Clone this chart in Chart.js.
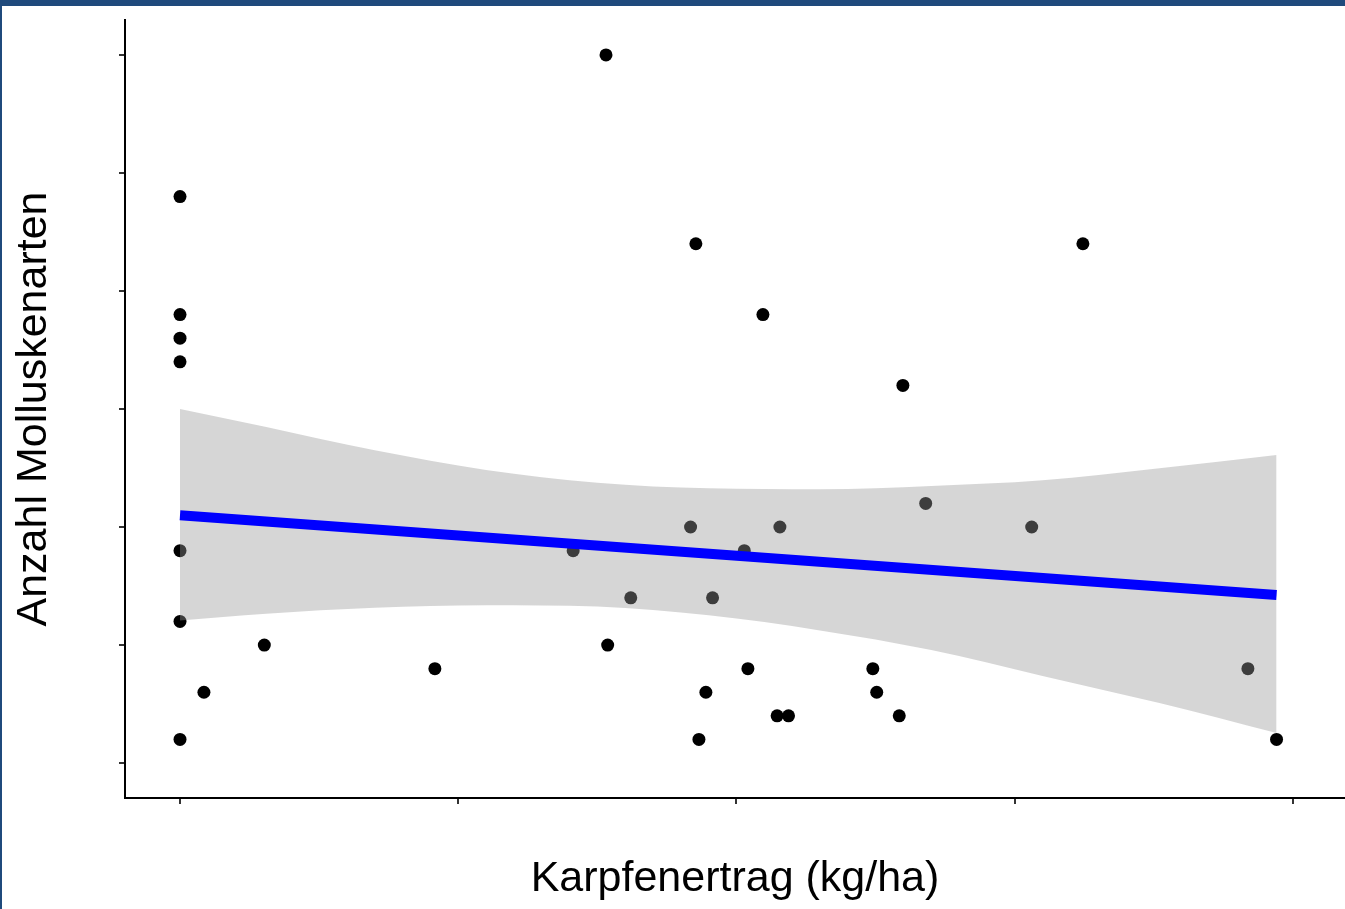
<!DOCTYPE html>
<html>
<head>
<meta charset="utf-8">
<script src="https://cdn.jsdelivr.net/npm/chart.js@4.4.1/dist/chart.umd.min.js"></script>
<style>
  html, body { margin: 0; padding: 0; background: #fff; }
  #wrap { position: relative; width: 1345px; height: 909px; overflow: hidden; }
  #wrap canvas { position: absolute; left: 0; top: 0; }
  .frame-top { position: absolute; left: 0; top: 0; width: 1345px; height: 6px; background: #1f4a7c; }
  .frame-left { position: absolute; left: 0; top: 0; width: 2px; height: 909px; background: #1f4a7c; }
</style>
</head>
<body>
<div id="wrap">
  <canvas id="molluskChart" width="1345" height="909"></canvas>
  <div class="frame-top"></div>
  <div class="frame-left"></div>
</div>
<script>
// Karpfenertrag (kg/ha) und Anzahl Molluskenarten je Teich
const yieldKg = [0, 153.1, 185.4, 324.5, 0, 209.5, 0, 0, 259.8, 268.0, 183.5, 215.6, 306.1, 0, 141.3, 202.8, 162.0,
  191.4, 0, 30.3, 153.7, 91.6, 204.1, 249.0, 383.8, 8.6, 189.0, 250.4, 214.6, 218.7, 258.5, 0, 186.5, 394.1];
const species = [24, 30, 22, 22, 19, 19, 18, 17, 16, 11, 10, 10, 10, 9, 9, 9, 7,
  7, 6, 5, 5, 4, 4, 4, 4, 3, 3, 3, 2, 2, 2, 1, 1, 1];

// Regressionsgerade (lm) und Konfidenzband
const fitX = [0, 394.1];
const fitY = [10.5, 7.12];
const bandX = [0, 31, 70, 110, 150, 190, 230, 270, 310, 352, 394.1];
const bandUpper = [15.0, 14.24, 13.25, 12.42, 11.88, 11.64, 11.6, 11.74, 11.98, 12.49, 13.05];
const bandLower = [6.04, 6.33, 6.58, 6.69, 6.63, 6.26, 5.62, 4.79, 3.69, 2.54, 1.27];

const xTicks = [0, 100, 200, 300, 400];
const yTicks = [0, 5, 10, 15, 20, 25, 30];

const toXY = (xs, ys) => xs.map((x, i) => ({ x, y: ys[i] }));
const family = '"Liberation Sans", Arial, Helvetica, sans-serif';

const axisGrid = { display: true, drawOnChartArea: false, drawTicks: true, tickLength: 6, color: '#333', lineWidth: 2 };
const axisBorder = { display: true, color: '#000', width: 2 };

const ctx = document.getElementById('molluskChart').getContext('2d');
new Chart(ctx, {
  type: 'line',
  data: {
    datasets: [
      {
        label: 'fit',
        data: toXY(fitX, fitY),
        borderColor: '#0000ff',
        borderWidth: 10,
        borderCapStyle: 'butt',
        pointRadius: 0,
        fill: false,
        order: 1
      },
      {
        label: 'upper',
        data: toXY(bandX, bandUpper),
        borderColor: 'rgba(0,0,0,0)',
        borderWidth: 1,
        pointRadius: 0,
        backgroundColor: 'rgba(153,153,153,0.4)',
        fill: '+1',
        cubicInterpolationMode: 'monotone',
        order: 2
      },
      {
        label: 'lower',
        data: toXY(bandX, bandLower),
        borderColor: 'rgba(0,0,0,0)',
        borderWidth: 1,
        pointRadius: 0,
        fill: false,
        cubicInterpolationMode: 'monotone',
        order: 2
      },
      {
        label: 'points',
        data: toXY(yieldKg, species),
        showLine: false,
        pointRadius: 6.5,
        pointBackgroundColor: '#000',
        pointBorderWidth: 0,
        order: 3
      }
    ]
  },
  options: {
    responsive: false,
    animation: false,
    devicePixelRatio: 1,
    events: [],
    layout: { autoPadding: false, padding: { top: 20, left: 0, right: 0, bottom: 0 } },
    plugins: {
      legend: { display: false },
      tooltip: { enabled: false }
    },
    scales: {
      x: {
        type: 'linear',
        min: -19.77,
        max: 418.7,
        afterBuildTicks: (s) => { s.ticks = xTicks.map(v => ({ value: v })); },
        afterFit: (s) => { s.height = 111; },
        ticks: { display: false },
        grid: axisGrid,
        border: axisBorder,
        title: {
          display: true,
          text: 'Karpfenertrag (kg/ha)',
          color: '#000',
          font: { family, size: 43 },
          padding: { top: 0, bottom: 4 }
        }
      },
      y: {
        type: 'linear',
        min: -1.48,
        max: 31.48,
        afterBuildTicks: (s) => { s.ticks = yTicks.map(v => ({ value: v })); },
        afterFit: (s) => { s.width = 125; },
        ticks: { display: false },
        grid: axisGrid,
        border: axisBorder,
        title: {
          display: true,
          text: 'Anzahl Molluskenarten',
          color: '#000',
          font: { family, size: 43 },
          padding: { top: 8, bottom: 0 }
        }
      }
    }
  }
});
</script>
</body>
</html>
